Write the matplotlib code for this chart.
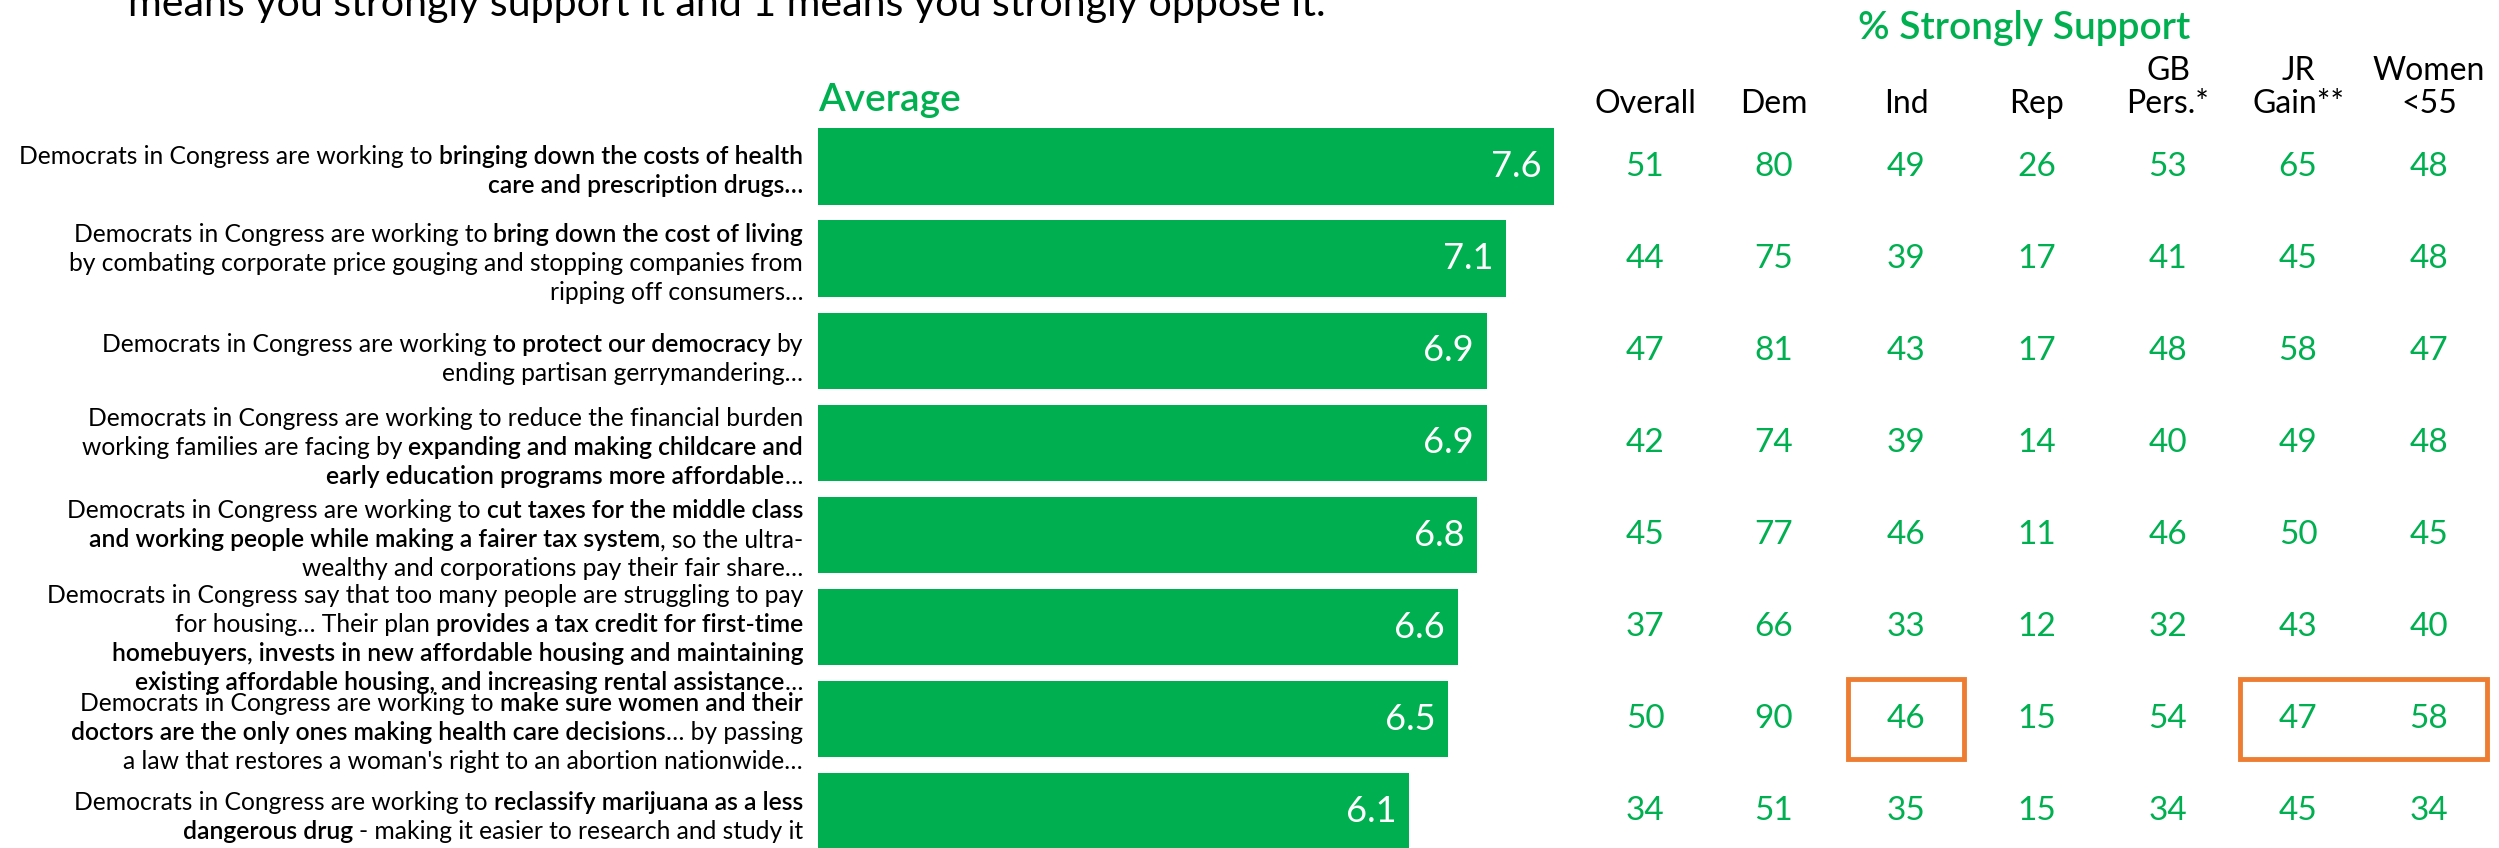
import numpy as np
import matplotlib.pyplot as plt
from matplotlib.patches import Rectangle

plt.rcParams['font.family'] = ['Lato', 'DejaVu Sans']

# average rating (0-10) per message
averages = [7.6, 7.1, 6.9, 6.9, 6.8, 6.6, 6.5, 6.1]

# % strongly support by group
columns = ["Overall", "Dem", "Ind", "Rep", "GB\nPers.*", "JR\nGain**", "Women\n<55"]
overall = [51, 44, 47, 42, 45, 37, 50, 34]
dem = [80, 75, 81, 74, 77, 66, 90, 51]
ind = [49, 39, 43, 39, 46, 33, 46, 35]
rep = [26, 17, 17, 14, 11, 12, 15, 15]
gb_pers = [53, 41, 48, 40, 46, 32, 54, 34]
jr_gain = [65, 45, 58, 49, 50, 43, 47, 45]
women_u55 = [48, 48, 47, 48, 45, 40, 58, 34]
table = [overall, dem, ind, rep, gb_pers, jr_gain, women_u55]

# message texts, **...** marks the bold part
labels = [
    "Democrats in Congress are working to **bringing down the costs of health**\n"
    "**care and prescription drugs…**",
    "Democrats in Congress are working to **bring down the cost of living**\n"
    "by combating corporate price gouging and stopping companies from\n"
    "ripping off consumers…",
    "Democrats in Congress are working **to protect our democracy** by\n"
    "ending partisan gerrymandering…",
    "Democrats in Congress are working to reduce the financial burden\n"
    "working families are facing by **expanding and making childcare and**\n"
    "**early education programs more affordable**…",
    "Democrats in Congress are working to **cut taxes for the middle class**\n"
    "**and working people while making a fairer tax system**, so the ultra-\n"
    "wealthy and corporations pay their fair share…",
    "Democrats in Congress say that too many people are struggling to pay\n"
    "for housing… Their plan **provides a tax credit for first-time**\n"
    "**homebuyers, invests in new affordable housing and maintaining**\n"
    "**existing affordable housing, and increasing rental assistance**…",
    "Democrats in Congress are working to **make sure women and their**\n"
    "**doctors are the only ones making health care decisions**… by passing\n"
    "a law that restores a woman's right to an abortion nationwide…",
    "Democrats in Congress are working to **reclassify marijuana as a less**\n"
    "**dangerous drug** - making it easier to research and study it",
]

# highlighted cells: (row, first column, last column)
highlights = [(6, 2, 2), (6, 5, 6)]

GREEN = '#00B050'
ORANGE = '#ED7D31'
W, H = 2499, 848
row0, pitch = 166.6, 92.1   # pixel centre of first row, row spacing
bar_left, unit = 818, 96.9  # pixel of zero, pixels per rating point
col_x = [1645, 1774, 1906, 2037, 2168, 2298, 2429]
label_x = 803
lab_fs = 17.7
# vertical nudge of each label block (in rows)
lab_shift = [0.05, 0.05, 0.093, 0.05, 0.05, 0.128, 0.145, 0.067]


def fx(px):
    return px / W


def ry(py):
    return (py - row0) / pitch


fig = plt.figure(figsize=(W / 100, H / 100), dpi=100)
ax = fig.add_axes([0, 0, 1, 1])
ax.set_xlim(-bar_left / unit, (W - bar_left) / unit)
ax.set_ylim(ry(H), ry(0))
ax.axis('off')
tr = ax.get_yaxis_transform()

# bars
rows = np.arange(len(averages))
ax.barh(rows, averages, height=0.83, color=GREEN)
for i, v in enumerate(averages):
    ax.annotate(f"{v:.1f}", xy=(v, i), xytext=(-9, 0), textcoords='offset points',
                ha='right', va='center', color='white', fontsize=26)

# titles
ax.text(fx(128), ry(16), "means you strongly support it and 1 means you strongly oppose it.",
        transform=tr, ha='left', va='baseline', fontsize=29.6)
ax.text(fx(bar_left), ry(111), "Average", transform=tr, ha='left', va='baseline',
        fontsize=28, color=GREEN, fontweight='semibold')
ax.text(fx(2024), ry(39), "% Strongly Support", transform=tr, ha='center', va='baseline',
        fontsize=28, color=GREEN, fontweight='semibold')

# table
for j, name in enumerate(columns):
    ax.text(fx(col_x[j]), ry(119), name, transform=tr, ha='center', va='bottom',
            multialignment='center', fontsize=23, linespacing=1.12)
    for i, v in enumerate(table[j]):
        ax.text(fx(col_x[j]), i, str(v), transform=tr, ha='center', va='center',
                color=GREEN, fontsize=24)

for r, c0, c1 in highlights:
    x0 = fx(col_x[c0] - 58)
    x1 = fx(col_x[c1] + 58)
    ax.add_patch(Rectangle((x0, r - 0.435), x1 - x0, 0.87, transform=tr,
                           fill=False, ec=ORANGE, lw=3.5))


# labels with mixed bold / regular, right aligned
def draw_line(y, line):
    parts = line.split('**')
    segs = [(p, k % 2 == 1) for k, p in enumerate(parts) if p]
    prev = None
    for k in range(len(segs) - 1, -1, -1):
        txt, bold = segs[k]
        w = 'semibold' if bold else 'normal'
        gap = 0
        if k < len(segs) - 1 and (txt.endswith(' ') or segs[k + 1][0].startswith(' ')):
            gap = 0.25 * lab_fs
        if prev is None:
            prev = ax.text(fx(label_x), y, txt.strip(), transform=tr, ha='right',
                           va='center', fontsize=lab_fs, fontweight=w)
        else:
            prev = ax.annotate(txt.strip(), xy=(0, 0), xycoords=prev, xytext=(-gap, 0),
                               textcoords='offset points', ha='right', va='bottom',
                               fontsize=lab_fs, fontweight=w)


line_step = 0.315
for i, lab in enumerate(labels):
    lines = lab.split('\n')
    n = len(lines)
    for k, line in enumerate(lines):
        draw_line(i + lab_shift[i] + (k - (n - 1) / 2) * line_step, line)

fig.savefig('out.png', dpi=100)
